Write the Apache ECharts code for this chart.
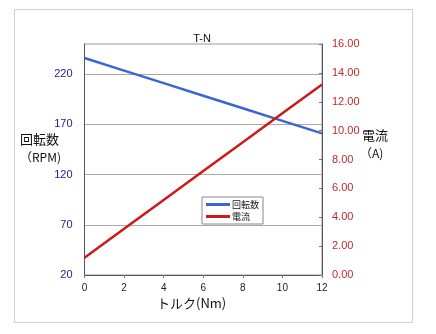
<!DOCTYPE html>
<html>
<head>
<meta charset="utf-8">
<script src="https://cdn.jsdelivr.net/npm/echarts@6/dist/echarts.min.js"></script>
<style>
  html, body { margin: 0; padding: 0; background: #fff; }
  #chart { width: 436px; height: 334px; }
</style>
</head>
<body>
<div id="chart"></div>
<script>
// Torque (Nm) on the x axis
const torque = [0, 2, 4, 6, 8, 10, 12];
// Rotation speed (RPM), left axis
const rpm = [236, 223.5, 211, 198.5, 186, 173.5, 161];
// Current (A), right axis
const current = [1.2, 3.2, 5.2, 7.2, 9.2, 11.2, 13.2];
// Left axis tick labels
const rpmTicks = [20, 70, 120, 170, 220];

const JP = '"Noto Sans CJK JP", "Liberation Sans", sans-serif';
const NUM = '"Liberation Sans", Arial, sans-serif';

const chart = echarts.init(document.getElementById('chart'), null, { renderer: 'canvas' });

chart.setOption({
  animation: false,
  backgroundColor: '#fff',
  title: {
    text: 'T-N',
    left: 197, top: 28, textAlign: 'center',
    textStyle: { fontFamily: NUM, fontSize: 11, fontWeight: 'normal', color: '#111' }
  },
  grid: {
    left: 84.5, right: 114, top: 44, bottom: 59,
    show: true, borderColor: '#999', borderWidth: 1
  },
  legend: {
    left: 202, top: 197,
    orient: 'vertical',
    itemWidth: 24, itemHeight: 3, itemGap: 3,
    padding: [3, 4, 3, 4],
    borderColor: '#888', borderWidth: 1,
    backgroundColor: '#fff',
    textStyle: { fontFamily: JP, fontSize: 9, color: '#111', padding: [0, 0, 0, -3] },
    icon: 'rect',
    data: ['回転数', '電流']
  },
  xAxis: {
    type: 'value', min: 0, max: 12, interval: 2,
    axisLine: { lineStyle: { color: '#555', width: 1 } },
    axisTick: { show: true, inside: false, length: 3, lineStyle: { color: '#777' } },
    axisLabel: { fontFamily: NUM, fontSize: 10, color: '#222', margin: 8 },
    splitLine: { show: false }
  },
  yAxis: [
    {
      type: 'value', min: 20, max: 250, position: 'left',
      axisLine: { show: true, lineStyle: { color: '#555', width: 1 } },
      axisTick: { show: false, customValues: rpmTicks },
      axisLabel: { customValues: rpmTicks, fontFamily: NUM, fontSize: 11, color: '#1e1e8c', margin: 12 },
      splitLine: { show: true, lineStyle: { color: '#aaa', width: 1 } }
    },
    {
      type: 'value', min: 0, max: 16, interval: 2, position: 'right',
      axisLine: { show: true, lineStyle: { color: '#555', width: 1 } },
      axisTick: { show: true, inside: true, length: 3, lineStyle: { color: '#777' } },
      axisLabel: {
        fontFamily: NUM, fontSize: 11, color: '#c0282d', margin: 10,
        formatter: v => v.toFixed(2)
      },
      splitLine: { show: false }
    }
  ],
  series: [
    {
      name: '回転数', type: 'line', yAxisIndex: 0,
      data: torque.map((t, i) => [t, rpm[i]]),
      showSymbol: false, symbol: 'none',
      lineStyle: { color: '#3a66d4', width: 2.5 },
      itemStyle: { color: '#3a66d4' },
      z: 3
    },
    {
      name: '電流', type: 'line', yAxisIndex: 1,
      data: torque.map((t, i) => [t, current[i]]),
      showSymbol: false, symbol: 'none',
      lineStyle: { color: '#cc1a1a', width: 2.5 },
      itemStyle: { color: '#cc1a1a' },
      z: 4
    }
  ],
  graphic: [
    {
      type: 'rect', left: 12, top: 7, silent: true, z: -10,
      shape: { width: 398, height: 313 },
      style: { fill: 'none', stroke: '#d0d0d0', lineWidth: 1 }
    },
    {
      type: 'text', left: 20, top: 133,
      style: { text: '回転数', font: '13px ' + JP, fill: '#111' }
    },
    {
      type: 'text', left: 20, top: 151,
      style: { text: '（RPM)', font: '12px ' + JP, fill: '#111' }
    },
    {
      type: 'text', left: 362, top: 129,
      style: { text: '電流', font: '13px ' + JP, fill: '#111' }
    },
    {
      type: 'text', left: 360, top: 147,
      style: { text: '（A)', font: '12px ' + JP, fill: '#111' }
    },
    {
      type: 'text', left: 157, top: 297,
      style: { text: 'トルク(Nm)', font: '13px ' + JP, fill: '#111' }
    }
  ]
});
</script>
</body>
</html>
